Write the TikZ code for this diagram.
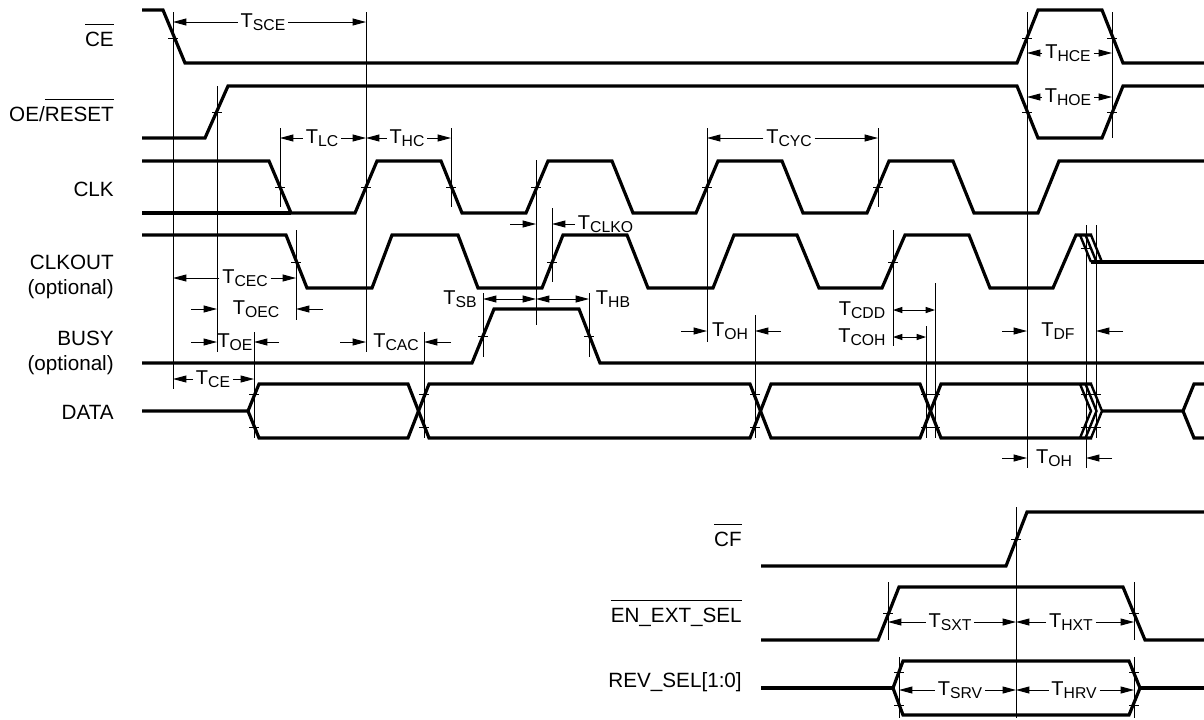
\documentclass[tikz,border=0pt]{standalone}
\usepackage{fontspec}
\setmainfont{Liberation Sans}
\usetikzlibrary{arrows.meta}
\newcommand\ovl[1]{\leavevmode\vbox{\hrule height 0.8pt\kern 4.8pt\hbox{#1}}}
\newcommand\tl[1]{T\raisebox{-2.3pt}{\fontsize{11.8}{13}\selectfont #1}}
\begin{document}
\begin{tikzpicture}[x=0.75pt,y=-0.75pt,
 sig/.style={line width=2.4pt, line join=miter, miter limit=6},
 fan/.style={line width=1.8pt},
 thin/.style={line width=0.7pt},
 arr/.style={thin,-{Triangle[length=10pt,width=5.2pt]}},
 dbl/.style={thin,{Triangle[length=10pt,width=5.2pt]}-{Triangle[length=10pt,width=5.2pt]}},
 sdbl/.style={thin,{Triangle[length=7pt,width=4.6pt]}-{Triangle[length=7pt,width=4.6pt]}},
 tlab/.style={font=\fontsize{15}{17}\selectfont, inner sep=2pt},
 sname/.style={font=\fontsize{15.5}{18}\selectfont, inner sep=0pt, anchor=base east}]
\useasboundingbox (0,0) rectangle (1204,719);

% signal names
\node[sname] (nce) at (114,46) {\ovl{CE}};
\node[sname] (noe) at (114,121) {OE/\ovl{RESET}};
\node[sname] (nclk) at (114,196) {CLK};
\node[sname] (nclko) at (114,269) {CLKOUT};
\node[sname] (nclkop) at (114,294) {(optional)};
\node[sname] (nbusy) at (114,345) {BUSY};
\node[sname] (nbusyop) at (114,370) {(optional)};
\node[sname] (ndata) at (114,419) {DATA};
\node[sname] (ncf) at (742,546) {\ovl{CF}};
\node[sname] (nen) at (742,622) {\ovl{EN\_EXT\_SEL}};
\node[sname] (nrev) at (742,687) {REV\_SEL[1:0]};

% waveforms
\draw[sig] (142,10) -- (163,10) -- (185,63) -- (1017,63) -- (1038,10) -- (1102,10) -- (1123,63) -- (1204,63);
\draw[sig] (142,138) -- (205,138) -- (228,86) -- (1017,86) -- (1038,138) -- (1102,138) -- (1123,86) -- (1204,86);
\draw[sig] (142,161) -- (269,161) -- (291,213) -- (355,213) -- (377,161) -- (441,161) -- (462,213) -- (526,213) -- (548,161) -- (612,161) -- (633,213) -- (696,213) -- (718,161) -- (782,161) -- (803,213) -- (867,213) -- (889,161) -- (953,161) -- (974,213) -- (1038,213) -- (1059,161) -- (1204,161);
\draw[sig] (142,213) -- (291,213);
\draw[sig] (142,235) -- (286,235) -- (307,288) -- (372,288) -- (392,235) -- (458,235) -- (478,288) -- (542,288) -- (563,235) -- (627,235) -- (648,288) -- (713,288) -- (734,235) -- (797,235) -- (819,288) -- (882,288) -- (905,235) -- (969,235) -- (990,288) -- (1053,288) -- (1076,235) -- (1092,235);
\foreach \d in {0,5.5,11} \draw[fan] (1080+\d,235) -- (1091+\d,262);
\draw[sig] (1091,262) -- (1204,262);
\draw[sig] (142,363) -- (472,363) -- (494,309) -- (579,309) -- (600,363) -- (1204,363);
\draw[sig] (142,411) -- (248,411) -- (259,384) -- (408,384) -- (429,438) -- (750,438) -- (771,384) -- (920,384) -- (941,438) -- (1092,438);
\draw[sig] (248,411) -- (259,438) -- (408,438) -- (429,384) -- (750,384) -- (771,438) -- (920,438) -- (941,384) -- (1092,384);
\foreach \d in {0,5.5,11} \draw[fan] (1080+\d,384) -- (1091+\d,411) -- (1080+\d,438);
\draw[sig] (1102,411) -- (1183,411) -- (1194,384) -- (1204,384);
\draw[sig] (1183,411) -- (1194,438) -- (1204,438);
\draw[sig] (761,566) -- (1006,566) -- (1027,512) -- (1204,512);
\draw[sig] (761,640) -- (878,640) -- (899,587) -- (1123,587) -- (1145,640) -- (1204,640);
\draw[sig] (761,688) -- (893,688);
\draw[sig] (893,688) -- (903,661) -- (1129,661) -- (1140,688) -- (1129,715) -- (903,715) -- cycle;
\draw[sig] (1140,688) -- (1204,688);

% reference lines
\foreach \n/\x/\a/\b in {va/173/12/389, vb/217/86/352, vc/366/12/352, vd/280/128/207,
  ve/451/128/207, vf/536/160/325, vg/552/208/282, vh/707/128/342, vi/878/128/207,
  vj/1027/12/468, vk/1112/12/138, vl/296/230/320, vm/254/332/438, vn/424/332/438,
  vo/483/293/357, vp/589/293/357, vq/755/315/438, vr/893/230/346, vs/935/283/438,
  vt/926/326/438, vu/1086/225/468, vv/1096/225/438, vw/1016/507/718, vx/888/582/640,
  vy/1134/582/640, vyy/1134/657/718, vz/899/657/718}
  {\coordinate (\n) at (\x,\a); \draw[thin] (\x,\a) -- (\x,\b);}

% ticks
\foreach \x/\y in {173/38, 217/112, 1027/38, 1027/112, 1112/38, 1112/112,
  280/187, 366/187, 451/187, 536/187, 707/187, 878/187,
  296/262, 552/262, 893/262, 1086/248, 483/336, 589/336,
  254/394, 254/427, 424/394, 424/427, 755/394, 755/427,
  926/394, 926/427, 935/394, 935/427, 1086/394, 1086/427, 1096/394, 1096/427,
  1016/539, 888/613, 1134/613, 899/672, 899/705, 1134/672, 1134/705}
  \draw[thin] (\x-5,\y) -- (\x+5,\y);

% timing labels
\node[tlab] (tsce) at (263,22) {\tl{SCE}};
\draw[arr] (tsce.west) -- (tsce.west -| va);
\draw[arr] (tsce.east) -- (tsce.east -| vc);
\node[tlab] (tlc) at (322,138) {\tl{LC}};
\draw[arr] (tlc.west) -- (tlc.west -| vd);
\draw[arr] (tlc.east) -- (tlc.east -| vc);
\node[tlab] (thc) at (407,138) {\tl{HC}};
\draw[arr] (thc.west) -- (thc.west -| vc);
\draw[arr] (thc.east) -- (thc.east -| ve);
\node[tlab] (tcyc) at (789,138) {\tl{CYC}};
\draw[arr] (tcyc.west) -- (tcyc.west -| vh);
\draw[arr] (tcyc.east) -- (tcyc.east -| vi);
\node[tlab] (thce) at (1068,53) {\tl{HCE}};
\draw[arr] (thce.west) -- (thce.west -| vj);
\draw[arr] (thce.east) -- (thce.east -| vk);
\node[tlab] (thoe) at (1068,97) {\tl{HOE}};
\draw[arr] (thoe.west) -- (thoe.west -| vj);
\draw[arr] (thoe.east) -- (thoe.east -| vk);
\node[tlab, anchor=west] (tclko) at (575,224) {\tl{CLKO}};
\draw[arr] (tclko.west) -- (tclko.west -| vg);
\coordinate (clkoin) at (510,224);
\draw[arr] (clkoin) -- (clkoin -| vf);
\node[tlab] (tcec) at (245,278) {\tl{CEC}};
\draw[arr] (tcec.west) -- (tcec.west -| va);
\draw[arr] (tcec.east) -- (tcec.east -| vl);
\node[tlab] (toec) at (256,309) {\tl{OEC}};
\coordinate (oecl) at (191,309); \coordinate (oecr) at (323,309);
\draw[arr] (oecl) -- (oecl -| vb);
\draw[arr] (oecr) -- (oecr -| vl);
\node[tlab] (toe) at (235,342) {\tl{OE}};
\coordinate (oel) at (191,342); \coordinate (oer) at (279,342);
\draw[arr] (oel) -- (oel -| vb);
\draw[arr] (oer) -- (oer -| vm);
\node[tlab] (tcac) at (396,342) {\tl{CAC}};
\coordinate (cacl) at (340,342); \coordinate (cacr) at (451,342);
\draw[arr] (cacl) -- (cacl -| vc);
\draw[arr] (cacr) -- (cacr -| vn);
\node[tlab] (tce) at (213,379) {\tl{CE}};
\draw[arr] (tce.west) -- (tce.west -| va);
\draw[arr] (tce.east) -- (tce.east -| vm);
\node[tlab] (tsb) at (460,299) {\tl{SB}};
\coordinate (sby) at (510,299);
\draw[dbl] (sby -| vo) -- (sby -| vf);
\node[tlab] (thb) at (613,299) {\tl{HB}};
\draw[dbl] (sby -| vf) -- (sby -| vp);
\node[tlab] (toh) at (730,331) {\tl{OH}};
\coordinate (ohl) at (681,331); \coordinate (ohr) at (781,331);
\draw[arr] (ohl) -- (ohl -| vh);
\draw[arr] (ohr) -- (ohr -| vq);
\node[tlab] (tcdd) at (862,310) {\tl{CDD}};
\draw[sdbl] (tcdd.east -| vr) -- (tcdd.east -| vs);
\node[tlab] (tcoh) at (862,337) {\tl{COH}};
\draw[sdbl] (tcoh.east -| vr) -- (tcoh.east -| vt);
\node[tlab] (tdf) at (1058,331) {\tl{DF}};
\coordinate (dfl) at (1002,331); \coordinate (dfr) at (1123,331);
\draw[arr] (dfl) -- (dfl -| vj);
\draw[arr] (dfr) -- (dfr -| vv);
\node[tlab] (tohb) at (1054,458) {\tl{OH}};
\coordinate (ohbl) at (1002,458); \coordinate (ohbr) at (1112,458);
\draw[arr] (ohbl) -- (ohbl -| vj);
\draw[arr] (ohbr) -- (ohbr -| vu);
\node[tlab] (tsxt) at (950,622) {\tl{SXT}};
\draw[arr] (tsxt.west) -- (tsxt.west -| vx);
\draw[arr] (tsxt.east) -- (tsxt.east -| vw);
\node[tlab] (thxt) at (1071,622) {\tl{HXT}};
\draw[arr] (thxt.west) -- (thxt.west -| vw);
\draw[arr] (thxt.east) -- (thxt.east -| vy);
\node[tlab] (tsrv) at (960,690) {\tl{SRV}};
\draw[arr] (tsrv.west) -- (tsrv.west -| vz);
\draw[arr] (tsrv.east) -- (tsrv.east -| vw);
\node[tlab] (thrv) at (1074,690) {\tl{HRV}};
\draw[arr] (thrv.west) -- (thrv.west -| vw);
\draw[arr] (thrv.east) -- (thrv.east -| vyy);
\end{tikzpicture}
\end{document}
